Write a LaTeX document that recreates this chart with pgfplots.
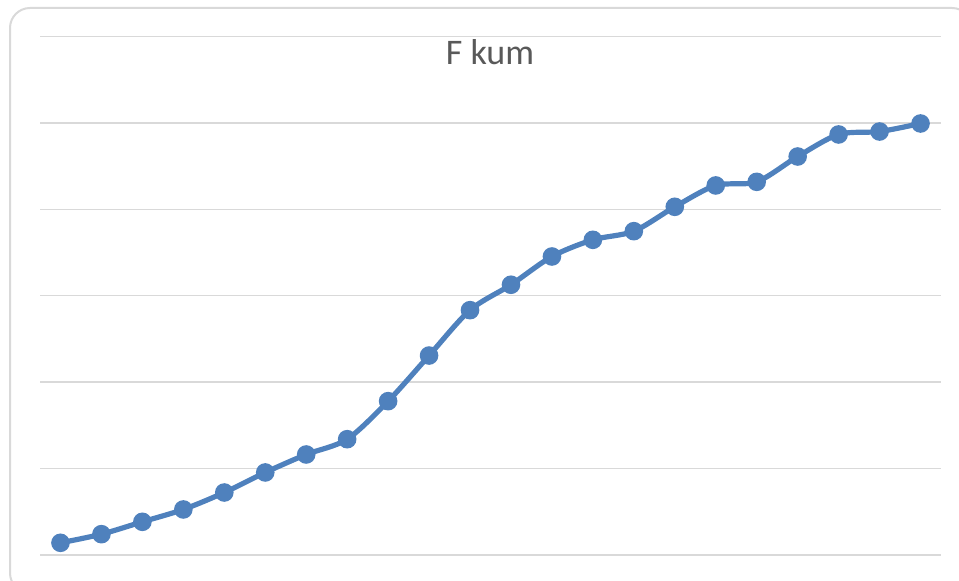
\documentclass[border=0pt]{standalone}
\usepackage{fontspec}
\setmainfont{Carlito}
\usepackage{pgfplots}
\pgfplotsset{compat=1.18}
\definecolor{excelblue}{RGB}{79,129,189}
\definecolor{gridgray}{RGB}{217,217,217}
\definecolor{titlegray}{RGB}{89,89,89}
\definecolor{bordergray}{RGB}{217,217,217}
\begin{document}
\begin{tikzpicture}
\useasboundingbox (0pt,0pt) rectangle (719.25pt,435.75pt);
\clip (0pt,0pt) rectangle (719.25pt,435.75pt);
\draw[bordergray, line width=1.5pt, rounded corners=15pt] (7.5pt,-9pt) rectangle (729pt,429.75pt);
\begin{axis}[
  at={(30pt,19.5pt)}, anchor=south west,
  scale only axis,
  width=675.75pt, height=388.9pt,
  xmin=0.5, xmax=22.5, ymin=0, ymax=6,
  ytick={0,1,2,3,4,5,6}, yticklabels={},
  xtick=\empty,
  major tick length=0pt,
  ymajorgrids,
  grid style={gridgray, line width=1pt},
  axis line style={draw=none},
  clip=false,
]
\addplot[excelblue, line width=3.9pt, smooth, tension=0.5,
  mark=*, mark size=5pt, mark options={solid, fill=excelblue, draw=none}]
  coordinates {
  (1,0.141) (2,0.241) (3,0.384) (4,0.527) (5,0.723) (6,0.955)
  (7,1.163) (8,1.340) (9,1.780) (10,2.308) (11,2.833) (12,3.127)
  (13,3.454) (14,3.647) (15,3.747) (16,4.029) (17,4.276) (18,4.318)
  (19,4.611) (20,4.866) (21,4.900) (22,4.993)
  };
\end{axis}
\node[anchor=base, text=titlegray, font=\fontsize{27}{32}\selectfont] at (367.5pt,387.4pt) {F kum};
\end{tikzpicture}
\end{document}
